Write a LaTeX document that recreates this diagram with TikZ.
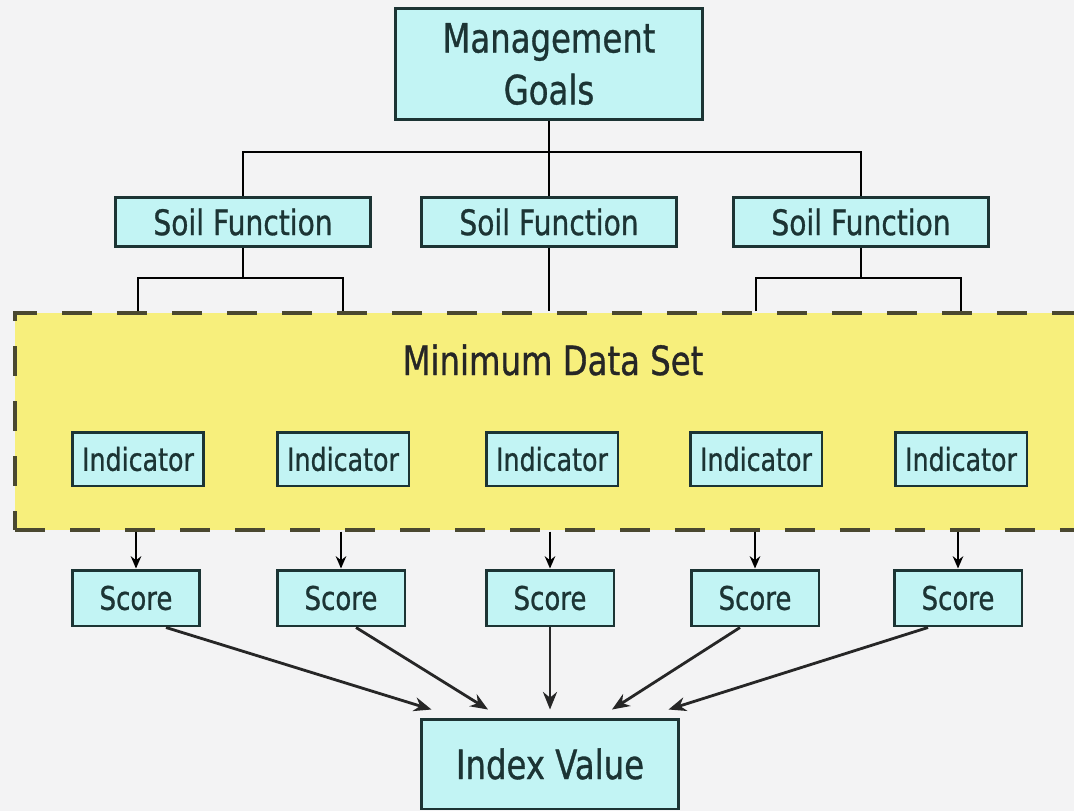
\documentclass[tikz,border=0pt]{standalone}
\usepackage{fontspec}
\setmainfont{DejaVu Sans}[FakeStretch=0.8, FakeBold=0.8]
\usepackage{tikz}
\usetikzlibrary{positioning,calc,arrows.meta}
\definecolor{boxcyan}{HTML}{C2F4F4}
\definecolor{boxedge}{HTML}{1C3434}
\definecolor{mdsyellow}{HTML}{F7EF7C}
\definecolor{mdsedge}{HTML}{4A4830}
\definecolor{paper}{HTML}{F3F3F4}
\newcommand{\cnode}[4]{\node [#1] (#2) at (#3) {#4}}

\tikzset{
  cbox/.style={draw=boxedge, fill=boxcyan, text=boxedge, line width=1.7pt, inner sep=0pt, align=center},
  goalbox/.style={cbox, minimum width=6.16cm, minimum height=2.24cm, font=\fontsize{23}{29.5}\selectfont},
  sfbox/.style={cbox, minimum width=5.12cm, minimum height=0.98cm, font=\fontsize{20}{24}\selectfont},
  indbox/.style={cbox, minimum width=2.64cm, minimum height=1.08cm, font=\fontsize{18}{22}\selectfont},
  scbox/.style={cbox, minimum width=2.56cm, minimum height=1.12cm, font=\fontsize{18.5}{22}\selectfont},
  idxbox/.style={cbox, minimum width=5.14cm, minimum height=1.8cm, font=\fontsize{23}{28}\selectfont},
  mdsbox/.style={draw=mdsedge, fill=mdsyellow, line width=2pt, dash pattern=on 0.6cm off 0.5cm, minimum width=21.7cm, minimum height=4.34cm, inner sep=0pt},
  link/.style={line width=1.1pt, black},
  dropto/.style={link, -{Stealth[length=7pt,width=6pt]}},
  toidx/.style={line width=1.6pt, draw=black!85, -{Stealth[length=10pt,width=8pt]}},
}

\begin{document}
\begin{tikzpicture}[x=0.02cm, y=-0.02cm]
\useasboundingbox (0,0) rectangle (1074,811);
\clip (0,0) rectangle (1074,811);
\fill[paper] (0,0) rectangle (1074,811);

\cnode{mdsbox}{mds}{557.5,421.5}{};
\node [font=\fontsize{23}{28}\selectfont, text=black!85] (mdslabel) at (553,360) {Minimum Data Set};

\cnode{goalbox}{goal}{549,64}{Management\\Goals};

\cnode{sfbox}{sf1}{243,222}{Soil Function};
\cnode{sfbox}{sf2}{549,222}{Soil Function};
\cnode{sfbox}{sf3}{861,222}{Soil Function};

\cnode{indbox}{ind1}{138,459}{Indicator};
\cnode{indbox}{ind2}{343,459}{Indicator};
\cnode{indbox}{ind3}{552,459}{Indicator};
\cnode{indbox}{ind4}{756,459}{Indicator};
\cnode{indbox}{ind5}{961,459}{Indicator};

\cnode{scbox}{sc1}{136,598}{Score};
\cnode{scbox}{sc2}{341,598}{Score};
\cnode{scbox}{sc3}{550,598}{Score};
\cnode{scbox}{sc4}{755,598}{Score};
\cnode{scbox}{sc5}{958,598}{Score};

\cnode{idxbox}{idx}{550,764}{Index Value};

\coordinate (gbar) at (549,152);
\draw[link] (goal.south) -- (sf2.north);
\draw[link] (sf1.north) |- (gbar) -| (sf3.north);

\draw[link] (sf1.south) -- ++(0,30) coordinate (b1);
\draw[link] (ind1 |- mds.north) |- (b1) -| (ind2 |- mds.north);
\draw[link] (sf2.south) -- (sf2.south |- mds.north);
\draw[link] (sf3.south) -- ++(0,30) coordinate (b3);
\draw[link] (ind4 |- mds.north) |- (b3) -| (ind5 |- mds.north);

\draw[dropto] (sc1 |- mds.south) -- (sc1.north);
\draw[dropto] (sc2 |- mds.south) -- (sc2.north);
\draw[dropto] (sc3 |- mds.south) -- (sc3.north);
\draw[dropto] (sc4 |- mds.south) -- (sc4.north);
\draw[dropto] (sc5 |- mds.south) -- (sc5.north);

\draw[toidx] ([xshift=0.6cm]sc1.south) -- ([xshift=-2.37cm,yshift=0.16cm]idx.north);
\draw[toidx] ([xshift=0.3cm]sc2.south) -- ([xshift=-1.24cm,yshift=0.16cm]idx.north);
\draw[toidx] (sc3.south) -- ([yshift=0.16cm]idx.north);
\draw[toidx] ([xshift=-0.3cm]sc4.south) -- ([xshift=1.24cm,yshift=0.16cm]idx.north);
\draw[toidx] ([xshift=-0.6cm]sc5.south) -- ([xshift=2.37cm,yshift=0.16cm]idx.north);

\end{tikzpicture}
\end{document}
